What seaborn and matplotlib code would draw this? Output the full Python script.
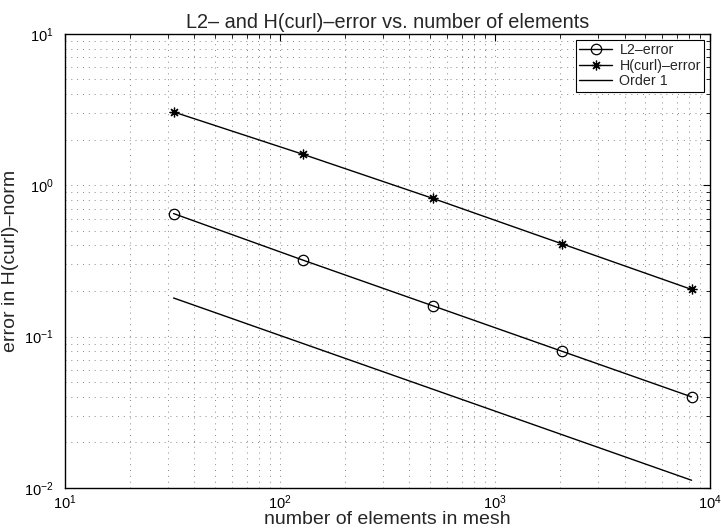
import matplotlib
matplotlib.use("Agg")
import matplotlib.pyplot as plt
import seaborn as sns
import pandas as pd
import numpy as np
from matplotlib.ticker import LogLocator

sns.set_theme(style="white")
plt.rcParams['font.family'] = ['Liberation Sans', 'DejaVu Sans']
plt.rcParams['mathtext.fontset'] = 'custom'
plt.rcParams['mathtext.rm'] = 'Liberation Sans'
plt.rcParams['mathtext.it'] = 'Liberation Sans'

elements = [32, 128, 512, 2048, 8192]
l2_error = [0.65, 0.32, 0.16, 0.08, 0.04]
hcurl_error = [3.05, 1.6, 0.82, 0.41, 0.205]
order1_x = [32, 8192]
order1_y = [0.18, 0.01125]

title = "L2\u2013 and H(curl)\u2013error vs. number of elements"
xlabel = "number of elements in mesh"
ylabel = "error in H(curl)\u2013norm"
labels = ["L2\u2013error", "H(curl)\u2013error", "Order 1"]

fig = plt.figure(figsize=(7.21, 5.29), dpi=100)
ax = fig.add_axes([0.090, 0.0775, 0.895, 0.8585])

df1 = pd.DataFrame({"x": elements, "y": l2_error})
df2 = pd.DataFrame({"x": elements, "y": hcurl_error})
df3 = pd.DataFrame({"x": order1_x, "y": order1_y})

sns.lineplot(data=df1, x="x", y="y", ax=ax, color="black", lw=1.0,
             marker="o", markersize=7.5, markerfacecolor="none",
             markeredgecolor="black", markeredgewidth=0.9, label=labels[0])
sns.lineplot(data=df2, x="x", y="y", ax=ax, color="black", lw=1.0,
             marker=(8, 2, 0), markersize=7, markeredgecolor="black",
             markeredgewidth=0.9, label=labels[1])
sns.lineplot(data=df3, x="x", y="y", ax=ax, color="black", lw=1.0,
             label=labels[2])

ax.set_xscale("log")
ax.set_yscale("log")
ax.set_xlim(10, 1e4)
ax.set_ylim(1e-2, 1e1)
ax.xaxis.set_major_locator(LogLocator(base=10, numticks=10))
ax.yaxis.set_major_locator(LogLocator(base=10, numticks=10))
ax.xaxis.set_minor_locator(LogLocator(base=10, subs=np.arange(2, 10), numticks=20))
ax.yaxis.set_minor_locator(LogLocator(base=10, subs=np.arange(2, 10), numticks=20))

ax.grid(True, which="both", linestyle=(0, (1, 5)), color="#555555", lw=0.7, alpha=0.7)
ax.tick_params(which="both", direction="in", top=True, right=True,
               labelsize=10.5, colors="black")
ax.tick_params(axis="x", which="major", pad=4)
ax.tick_params(axis="y", which="major", pad=8)
ax.tick_params(which="major", length=5, width=0.8)
ax.tick_params(which="minor", length=3, width=0.6)
for s in ax.spines.values():
    s.set_color("black")
    s.set_linewidth(1.0)

ax.set_title(title, fontsize=14.3, pad=4)
ax.set_xlabel(xlabel, fontsize=14, labelpad=-1)
ax.set_ylabel(ylabel, fontsize=14, labelpad=4)

leg = ax.legend(loc="upper right", fontsize=10.3, frameon=True, fancybox=False,
                edgecolor="black", handlelength=2.3, borderaxespad=0.4,
                labelspacing=0.1, borderpad=0.25, handletextpad=0.5)
leg.get_frame().set_linewidth(0.8)
leg.get_frame().set_alpha(1)

fig.savefig("out.png", dpi=100)
